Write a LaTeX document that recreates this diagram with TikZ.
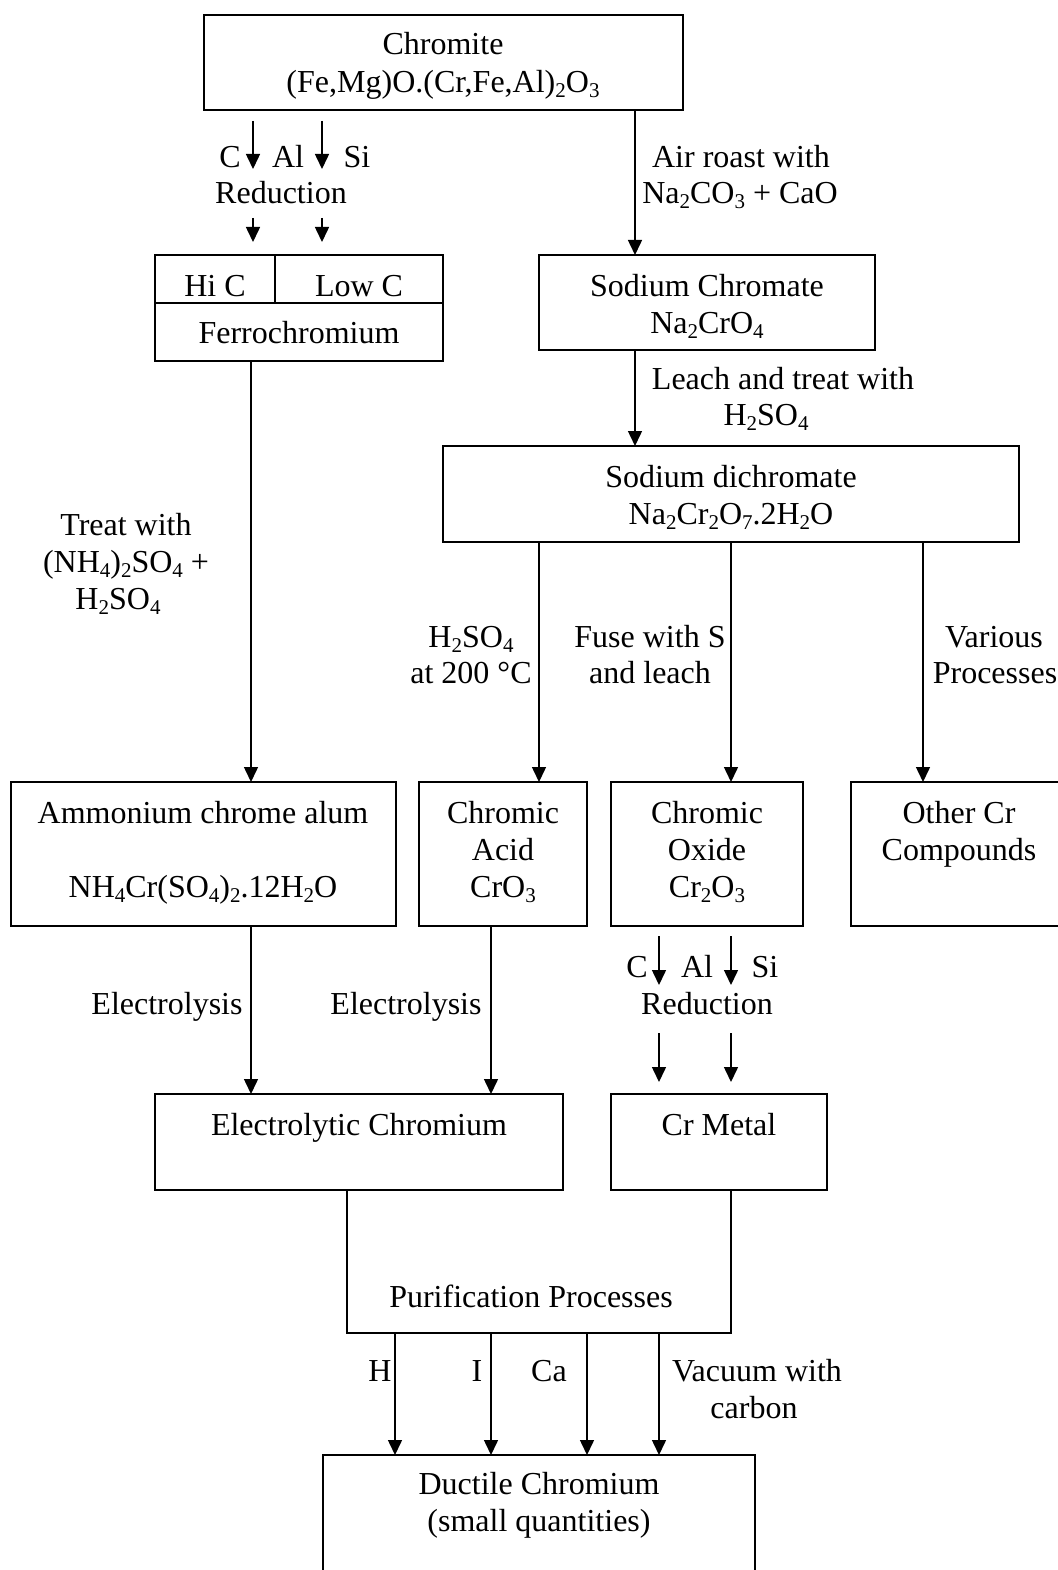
\documentclass[tikz,border=0pt]{standalone}
\usepackage{fontspec}
\setmainfont{Liberation Serif}
\usetikzlibrary{arrows.meta}
\newcommand{\sbs}[1]{\raisebox{-5pt}{\fontsize{21}{21}\selectfont #1}}
\newcommand{\mkbox}[5]{\node[box, minimum width={(#4-#2)*1pt}, minimum height={(#5-#3)*1pt}] (#1) at ({(#2+#4)/2},{(#3+#5)/2}) {};}
\begin{document}
\begin{tikzpicture}[x=1pt,y=-1pt,
  box/.style={draw, line width=1.6pt, inner sep=0pt, outer sep=0pt},
  txt/.style={anchor=base, inner sep=0pt, font=\fontsize{32}{37}\selectfont},
  arr/.style={-{Triangle[length=15pt,width=14pt]}, line width=1.5pt},
  ln/.style={line width=1.6pt}]
\useasboundingbox (0,0) rectangle (1057,1570);
% boxes
\mkbox{chromite}{204}{15}{683}{110}
\mkbox{ferro}{155}{255}{443}{361}
\mkbox{sodchr}{539}{255}{875}{350}
\mkbox{sodichr}{443}{446}{1019}{542}
\mkbox{ammon}{11}{782}{396}{926}
\mkbox{acid}{419}{782}{587}{926}
\mkbox{oxide}{611}{782}{803}{926}
\mkbox{other}{851}{782}{1085}{926}
\mkbox{electro}{155}{1094}{563}{1190}
\mkbox{crmetal}{611}{1094}{827}{1190}
\mkbox{ductile}{323}{1455}{755}{1610}
% ferro internal lines
\coordinate (fsplitL) at (155,303);
\coordinate (fsplitR) at (443,303);
\coordinate (fdivT) at (275,255);
\coordinate (fdivB) at (275,303);
\draw[ln] (fsplitL) -- (fsplitR);
\draw[ln] (fdivT) -- (fdivB);
% column coordinates
\coordinate (x251) at (251,0);
\coordinate (x347) at (347,0);
\coordinate (x395) at (395,0);
\coordinate (x491) at (491,0);
\coordinate (x539) at (539,0);
\coordinate (x587) at (587,0);
\coordinate (x635) at (635,0);
\coordinate (x659) at (659,0);
\coordinate (x731) at (731,0);
\coordinate (x923) at (923,0);
% texts
\node[txt] (t1) at (443,55) {Chromite};
\node[txt] (t2) at (443,93) {(Fe,Mg)O.(Cr,Fe,Al)\sbs{2}O\sbs{3}};
\node[txt] (t3) at (230,168) {C};
\node[txt] (t4) at (288,168) {Al};
\node[txt] (t5) at (357,168) {Si};
\node[txt] (t6) at (281,204) {Reduction};
\node[txt] (t7) at (215,296) {Hi C};
\node[txt] (t8) at (359,296) {Low C};
\node[txt] (t9) at (299,343) {Ferrochromium};
\node[txt] (t10) at (741,168) {Air roast with};
\node[txt] (t11) at (740,204) {Na\sbs{2}CO\sbs{3} + CaO};
\node[txt] (t12) at (707,296) {Sodium Chromate};
\node[txt] (t13) at (707,333) {Na\sbs{2}CrO\sbs{4}};
\node[txt] (t14) at (783,389) {Leach and treat with};
\node[txt] (t15) at (766,425) {H\sbs{2}SO\sbs{4}};
\node[txt] (t16) at (731,487) {Sodium dichromate};
\node[txt] (t17) at (731,524) {Na\sbs{2}Cr\sbs{2}O\sbs{7}.2H\sbs{2}O};
\node[txt] (t18) at (126,535) {Treat with};
\node[txt] (t19) at (126,572) {(NH\sbs{4})\sbs{2}SO\sbs{4} +};
\node[txt] (t20) at (118,609) {H\sbs{2}SO\sbs{4}};
\node[txt] (t21) at (471,647) {H\sbs{2}SO\sbs{4}};
\node[txt] (t22) at (471,683) {at 200 °C};
\node[txt] (t23) at (650,647) {Fuse with S};
\node[txt] (t24) at (650,683) {and leach};
\node[txt] (t25) at (994,647) {Various};
\node[txt] (t26) at (995,683) {Processes};
\node[txt] (t27) at (203,823) {Ammonium chrome alum};
\node[txt] (t28) at (203,897) {NH\sbs{4}Cr(SO\sbs{4})\sbs{2}.12H\sbs{2}O};
\node[txt] (t29) at (503,823) {Chromic};
\node[txt] (t30) at (503,860) {Acid};
\node[txt] (t31) at (503,897) {CrO\sbs{3}};
\node[txt] (t32) at (707,823) {Chromic};
\node[txt] (t33) at (707,860) {Oxide};
\node[txt] (t34) at (707,897) {Cr\sbs{2}O\sbs{3}};
\node[txt] (t35) at (959,823) {Other Cr};
\node[txt] (t36) at (959,860) {Compounds};
\node[txt] (t37) at (637,977) {C};
\node[txt] (t38) at (697,977) {Al};
\node[txt] (t39) at (765,977) {Si};
\node[txt] (t40) at (707,1014) {Reduction};
\node[txt] (t41) at (167,1014) {Electrolysis};
\node[txt] (t42) at (406,1014) {Electrolysis};
\node[txt] (t43) at (359,1135) {Electrolytic Chromium};
\node[txt] (t44) at (719,1135) {Cr Metal};
\node[txt] (t45) at (531,1307) {Purification Processes};
\node[txt] (t46) at (380,1381) {H};
\node[txt] (t47) at (477,1381) {I};
\node[txt] (t48) at (549,1381) {Ca};
\node[txt] (t49) at (757,1381) {Vacuum with};
\node[txt] (t50) at (754,1418) {carbon};
\node[txt] (t51) at (539,1494) {Ductile Chromium};
\node[txt] (t52) at (539,1531) {(small quantities)};
% reduction arrows (top)
\coordinate (ra1) at (253,121); \coordinate (ra2) at (253,169);
\coordinate (rb1) at (322,121); \coordinate (rb2) at (322,169);
\coordinate (rc1) at (253,218); \coordinate (rc2) at (253,242);
\coordinate (rd1) at (322,218); \coordinate (rd2) at (322,242);
\draw[arr] (ra1) -- (ra2);
\draw[arr] (rb1) -- (rb2);
\draw[arr] (rc1) -- (rc2);
\draw[arr] (rd1) -- (rd2);
% reduction arrows (oxide)
\coordinate (oa1) at (659,936); \coordinate (oa2) at (659,985);
\coordinate (ob1) at (731,936); \coordinate (ob2) at (731,985);
\coordinate (oc1) at (659,1033); \coordinate (oc2) at (659,1082);
\coordinate (od1) at (731,1033); \coordinate (od2) at (731,1082);
\draw[arr] (oa1) -- (oa2);
\draw[arr] (ob1) -- (ob2);
\draw[arr] (oc1) -- (oc2);
\draw[arr] (od1) -- (od2);
% main connectors
\draw[arr] (chromite.south -| x635) -- (sodchr.north -| x635);
\draw[arr] (sodchr.south -| x635) -- (sodichr.north -| x635);
\draw[arr] (sodichr.south -| x539) -- (acid.north -| x539);
\draw[arr] (sodichr.south -| x731) -- (oxide.north -| x731);
\draw[arr] (sodichr.south -| x923) -- (other.north -| x923);
\draw[arr] (ferro.south -| x251) -- (ammon.north -| x251);
\draw[arr] (ammon.south -| x251) -- (electro.north -| x251);
\draw[arr] (acid.south -| x491) -- (electro.north -| x491);
% purification
\coordinate (pbl) at (347,1333);
\coordinate (pbr) at (731,1333);
\draw[ln] (electro.south -| x347) -- (pbl) -- (pbr) -- (crmetal.south -| x731);
\draw[arr] (pbl -| x395) -- (ductile.north -| x395);
\draw[arr] (pbl -| x491) -- (ductile.north -| x491);
\draw[arr] (pbl -| x587) -- (ductile.north -| x587);
\draw[arr] (pbl -| x659) -- (ductile.north -| x659);
\end{tikzpicture}
\end{document}
